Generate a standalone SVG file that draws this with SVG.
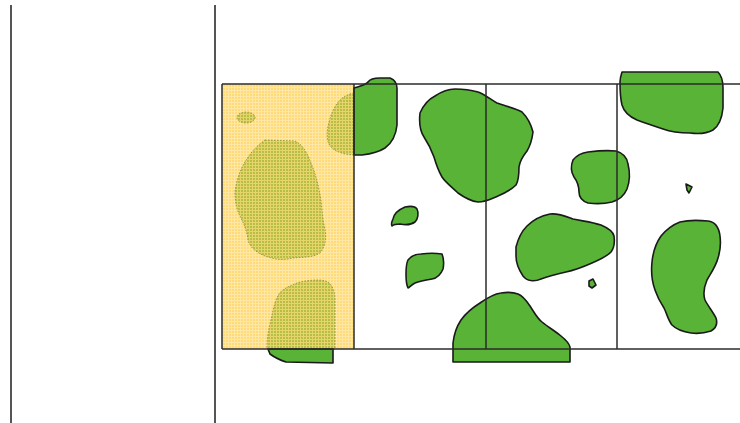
<svg xmlns="http://www.w3.org/2000/svg" width="740" height="423" viewBox="0 0 740 423">
<defs>
<style>
.g{fill:#58B337;stroke:#1a1a1a;stroke-width:1.6;stroke-linejoin:round}
.o{fill:url(#olive);stroke:#9c9a45;stroke-width:1;stroke-dasharray:1.5 1.5}
.ln{stroke:#2b2b2b;stroke-width:1.5;fill:none}
.side{stroke:#555;stroke-width:2;fill:none}
</style>
<pattern id="yel" width="3" height="3" patternUnits="userSpaceOnUse">
<rect width="3" height="3" fill="#FFDA78"/>
<rect x="0" y="0" width="3" height="1" fill="#FFE7A6"/>
<rect x="0" y="0" width="1" height="3" fill="#FFE7A6"/>
</pattern>
<pattern id="olive" width="3" height="3" patternUnits="userSpaceOnUse">
<rect width="3" height="3" fill="#B8BD45"/>
<rect x="0" y="0" width="3" height="1" fill="#E6D56A"/>
<rect x="0" y="0" width="1" height="3" fill="#E6D56A"/>
</pattern>
</defs>
<rect width="740" height="423" fill="#fff"/>
<line class="side" x1="11" y1="5" x2="11" y2="423"/>
<line class="side" x1="215" y1="5" x2="215" y2="423"/>

<g id="yellow-zone">
<rect x="222" y="84" width="132" height="265" fill="url(#yel)"/>
<ellipse class="o" cx="246" cy="117.5" rx="9" ry="5.5"/>
<path class="o" d="M354,93 C348,94 343,97 339,101 C334,107 331,114 329,122 C327,130 326,138 329,144 C332,150 338,152 345,154 L354,155 Z"/>
<path class="o" d="M265,140 L295,141 C301,144 305,149 309,158 C313,168 317,178 319,190 C322,202 322,215 324,225 C327,236 326,246 320,253 C312,258 302,257 293,258 C285,260 277,260 268,257 C258,254 250,248 248,240 C247,231 244,224 240,216 C236,208 235,200 235,192 C236,182 240,170 245,162 C249,155 256,146 265,140 Z"/>
<path class="o" d="M275,303 C277,296 280,291 286,288 C292,285 298,282 305,281 C313,280 322,279 328,282 C333,286 335,292 335,300 L335,349 L267,349 C267,340 268,332 270,324 C272,316 273,309 275,303 Z"/>
</g>

<g id="patches">
<path class="g" d="M354,88 C360,86 366,85 368,82 C370,79 374,78 380,78 L390,78 C395,80 397,83 397,88 L397,125 C396,135 392,143 385,148 C379,152 370,154 362,155 L354,155 Z"/>
<path class="g" d="M268,349 L333,349 L333,363 L286,362 C280,360 274,357 270,354 Z"/>
<path class="g" d="M420,113 C424,104 429,99 435,96 C441,92 447,89 455,89 C463,89 471,90 478,92 C486,95 491,100 497,103 C505,106 515,108 522,112 C528,118 531,124 533,132 C532,140 530,146 527,151 C523,156 520,160 519,167 C519,174 519,180 516,185 C511,190 505,193 498,196 C491,199 486,202 478,202 C470,201 465,198 458,193 C452,187 446,183 442,177 C438,170 436,164 434,157 C431,149 428,143 424,137 C420,131 419,122 420,113 Z"/>
<path class="g" d="M573,160 C577,155 581,153 588,152 C596,151 606,150 616,151 C623,153 627,157 628,164 C630,172 630,181 627,189 C624,196 619,200 612,202 C604,204 596,204 588,203 C582,201 579,197 579,192 C579,186 577,181 574,177 C571,172 571,165 573,160 Z"/>
<path class="g" d="M622,72 L718,72 C722,76 723,81 723,88 L723,108 C722,118 719,126 713,130 C706,134 698,134 690,133 C680,133 671,132 663,129 C654,126 645,123 637,120 C630,117 624,112 622,105 C620,97 620,90 620,82 C620,78 621,75 622,72 Z"/>
<path class="g" d="M686,184 L692,187 L689,193 L687,190 Z"/>
<path class="g" d="M393,219 C394,213 398,210 405,207 C410,206 415,206 417,209 C419,213 418,219 415,222 C411,225 405,225 400,224 C397,224 394,224 392,226 C391,224 392,221 393,219 Z"/>
<path class="g" d="M408,260 C411,256 416,254 421,254 C428,253 436,253 442,254 C444,259 444,264 443,269 C441,274 438,278 432,279 C426,280 420,281 415,283 C411,285 409,288 408,288 C406,284 406,280 406,274 C406,268 406,264 408,260 Z"/>
<path class="g" d="M516,247 C518,239 521,232 527,226 C533,220 540,216 550,214 C558,213 565,216 573,219 C582,221 592,222 601,225 C608,228 613,231 614,236 C615,243 614,248 611,252 C606,257 599,260 592,263 C583,267 576,270 566,272 C557,274 549,276 541,279 C534,282 527,281 523,276 C519,270 516,262 516,256 Z"/>
<path class="g" d="M589,281 L593,279 L596,285 L592,288 L589,286 Z"/>
<path class="g" d="M652,262 C653,252 656,243 661,236 C666,230 672,225 680,222 C688,220 698,220 708,221 C716,222 719,228 720,236 C721,244 720,252 718,258 C716,266 711,273 707,280 C704,287 703,294 705,300 C708,306 713,312 716,318 C718,324 716,328 711,331 C705,333 698,334 691,333 C684,332 677,330 672,325 C668,320 667,314 664,308 C660,302 657,296 655,290 C652,282 651,272 652,262 Z"/>
<path class="g" d="M453,343 C454,334 457,326 461,320 C466,313 472,308 480,303 C487,298 494,294 501,293 C507,292 513,292 518,294 C523,296 526,300 530,306 C534,312 537,318 542,322 C548,327 555,331 561,336 C566,340 569,343 570,347 L570,362 L453,362 Z"/>
</g>

<g id="grid">
<line class="ln" x1="222" y1="84" x2="740" y2="84"/>
<line class="ln" x1="222" y1="349" x2="740" y2="349"/>
<line class="ln" x1="222" y1="84" x2="222" y2="349"/>
<line class="ln" x1="354" y1="84" x2="354" y2="349"/>
<line class="ln" x1="486" y1="84" x2="486" y2="349"/>
<line class="ln" x1="617" y1="84" x2="617" y2="349"/>
</g>
</svg>
